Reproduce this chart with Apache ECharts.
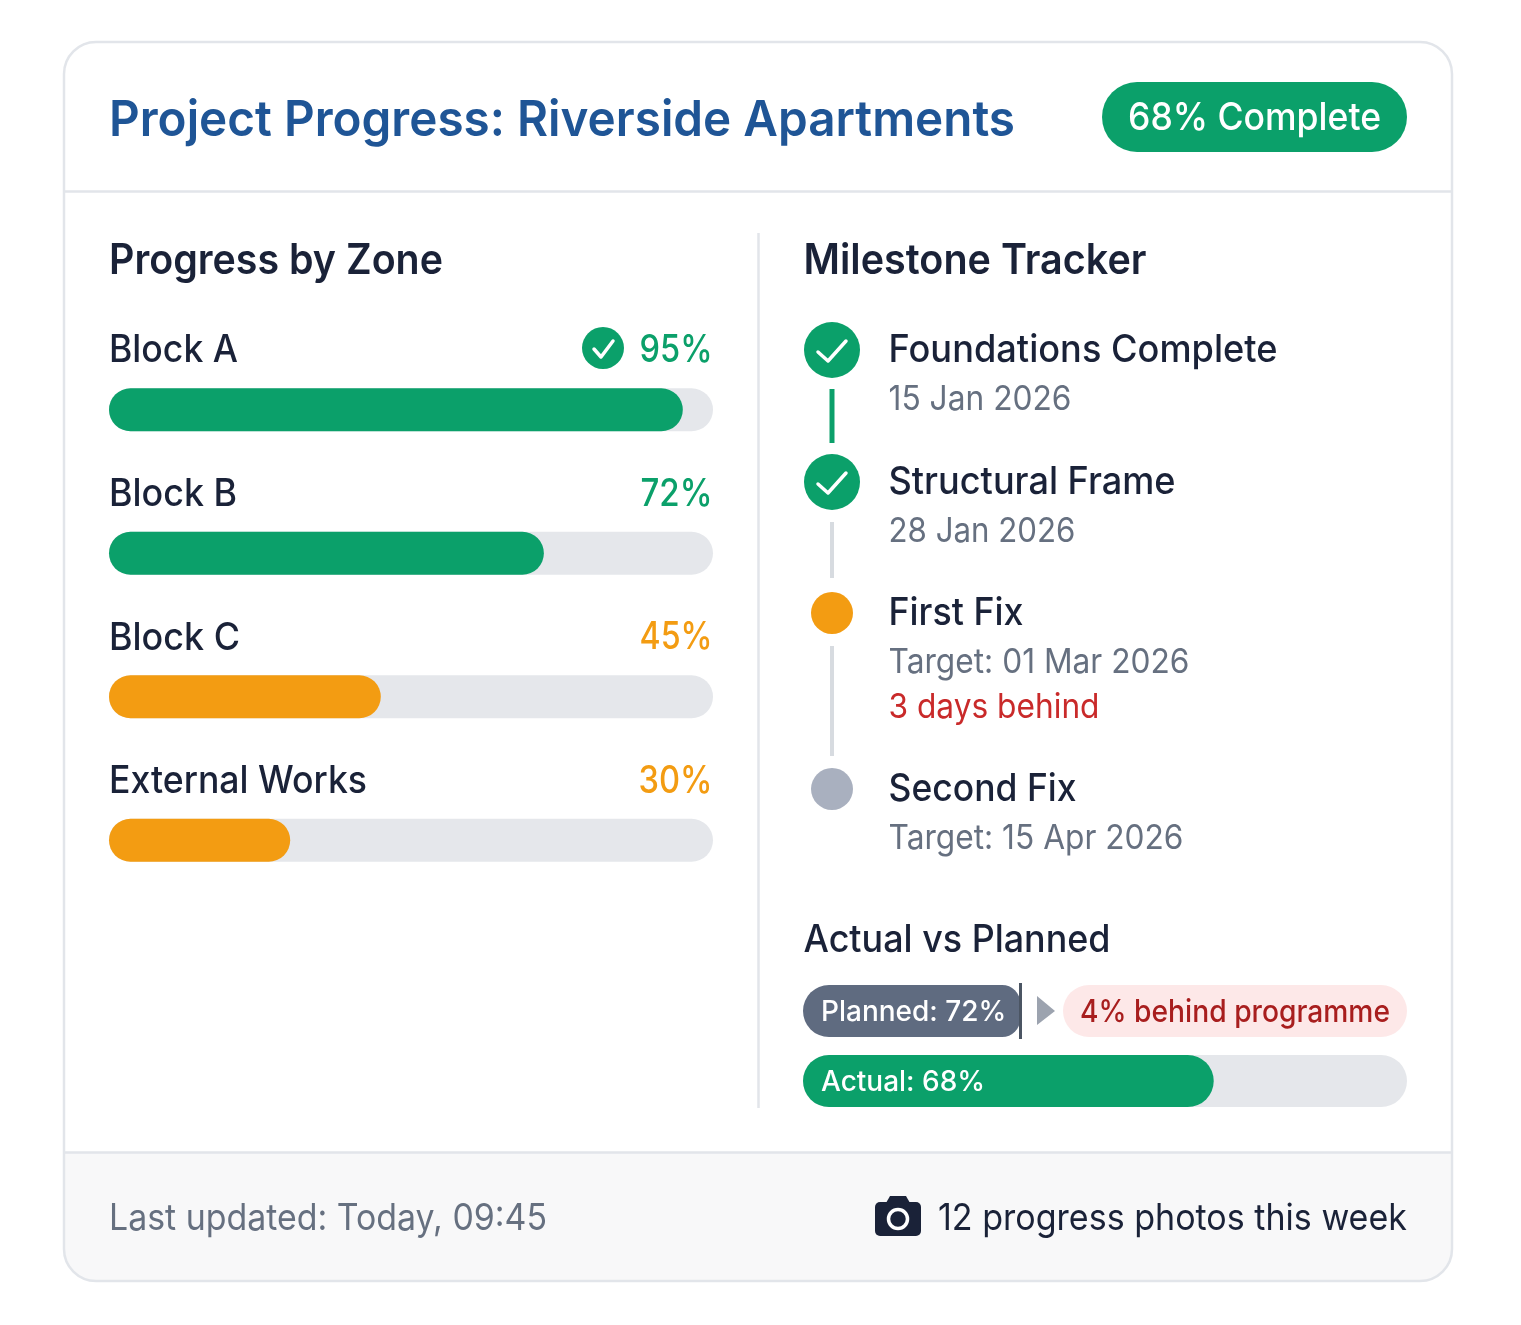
<!DOCTYPE html>
<html><head><meta charset="utf-8">
<style>html,body{margin:0;padding:0;background:#fff}#c{width:1521px;height:1325px}</style>
<script src="https://cdn.jsdelivr.net/npm/echarts@6/dist/echarts.min.js"></script>
</head><body><div id="c"></div>
<script>
const titleText = 'Project Progress: Riverside Apartments';
const overallBadge = '68% Complete';
const zoneNames = ['Block A', 'Block B', 'Block C', 'External Works'];
const zonePercents = [95, 72, 45, 30];
const zoneStatus = ['good', 'good', 'warn', 'warn'];
const milestoneNames = ['Foundations Complete', 'Structural Frame', 'First Fix', 'Second Fix'];
const milestoneDates = ['15 Jan 2026', '28 Jan 2026', 'Target: 01 Mar 2026', 'Target: 15 Apr 2026'];
const milestoneNotes = ['', '', '3 days behind', ''];
const milestoneStatus = ['done', 'done', 'active', 'todo'];
const plannedPercent = [72];
const actualPercent = [68];
const behindText = '4% behind programme';
const footerLeft = 'Last updated: Today, 09:45';
const footerRight = '12 progress photos this week';

const GREEN = '#0ba06a', ORANGE = '#f39c12', TRACK = '#e5e7eb', INK = '#1a2238', MUTED = '#667080', RED = '#c92a2a';
const FONT = 'Inter';
const g = [];
const ctx = document.createElement('canvas').getContext('2d');
// T draws a text; w is the width the text should span, reached by a slight horizontal scale
const T = (x, y, text, size, weight, fill, align, w) => {
  let sx = 1;
  if (w) { ctx.font = weight + ' ' + size + 'px ' + FONT; sx = w / ctx.measureText(text).width; }
  g.push({
    type: 'text', x, y: y + 2, scaleX: sx, z: 20,
    style: { text, fontFamily: FONT, fontSize: size, fontWeight: weight, fill, align: align || 'left', verticalAlign: 'middle' }
  });
};
const statusFill = { done: GREEN, active: ORANGE, todo: '#a9b0bf' };
const zoneNameW = [129, 128, 131, 258], zonePctW = [73, 72, 73, 74];
const nameW = [389, 287, 135, 188], dateW = [183, 187, 301, 295];

// card
g.push({ type: 'rect', z: -5, shape: { x: 64, y: 42, width: 1388, height: 1239, r: 32 }, style: { fill: '#fff' } });
g.push({ type: 'rect', z: -4, shape: { x: 64, y: 1152, width: 1388, height: 129, r: [0, 0, 32, 32] }, style: { fill: '#f8f8f9' } });
g.push({ type: 'rect', z: -3, shape: { x: 64, y: 42, width: 1388, height: 1239, r: 32 }, style: { fill: 'none', stroke: '#e2e5ea', lineWidth: 2.5 } });
[191.5, 1152.5].forEach(y => g.push({ type: 'line', z: -3, shape: { x1: 64, y1: y, x2: 1452, y2: y }, style: { stroke: '#e2e5ea', lineWidth: 2.5 } }));
g.push({ type: 'line', z: -3, shape: { x1: 758.5, y1: 233, x2: 758.5, y2: 1108 }, style: { stroke: '#e2e5ea', lineWidth: 2.5 } });

// header
T(109, 118.5, titleText, 50, 600, '#1f5596', 'left', 906);
g.push({ type: 'rect', z: 5, shape: { x: 1102, y: 82, width: 305, height: 70, r: 35 }, style: { fill: GREEN } });
T(1254.5, 117, overallBadge, 38, 500, '#fff', 'center', 253);

// section heads
T(109, 259, 'Progress by Zone', 42, 600, INK, 'left', 334);
T(803.5, 259, 'Milestone Tracker', 42, 600, INK, 'left', 343);
T(803.5, 939, 'Actual vs Planned', 38, 500, INK, 'left', 307);

// zone labels
const check = (pts, w) => g.push({ type: 'polyline', z: 21, shape: { points: pts }, style: { stroke: '#fff', lineWidth: w, fill: 'none', lineCap: 'round', lineJoin: 'round' } });
zoneNames.forEach((n, i) => {
  const y = 349 + i * 143.6;
  T(109, y, n, 38, 500, INK, 'left', zoneNameW[i]);
  T(712.5, y - 0.5, zonePercents[i] + '%', 38, 500, zoneStatus[i] === 'good' ? GREEN : ORANGE, 'right', zonePctW[i]);
});
g.push({ type: 'circle', z: 20, shape: { cx: 603, cy: 348, r: 21 }, style: { fill: GREEN } });
check([[594, 349], [601, 357], [613, 341]], 3.5);

// timeline
const tlY = [350, 482, 613, 789], tlX = 832;
[[389, 443, GREEN, 5], [522, 578, '#d7dbe0', 4], [646, 756, '#d7dbe0', 4]].forEach(s =>
  g.push({ type: 'line', z: 5, shape: { x1: tlX, y1: s[0], x2: tlX, y2: s[1] }, style: { stroke: s[2], lineWidth: s[3] } }));
milestoneNames.forEach((n, i) => {
  const done = milestoneStatus[i] === 'done';
  g.push({ type: 'circle', z: 6, shape: { cx: tlX, cy: tlY[i], r: done ? 28 : 21 }, style: { fill: statusFill[milestoneStatus[i]] } });
  if (done) check([[tlX - 14, tlY[i] + 2], [tlX - 4, tlY[i] + 11], [tlX + 14, tlY[i] - 9]], 3.5);
  T(888.5, tlY[i] - 1, n, 38, 500, INK, 'left', nameW[i]);
  T(888.5, tlY[i] + 48, milestoneDates[i], 34, 400, MUTED, 'left', dateW[i]);
  if (milestoneNotes[i]) T(888.5, tlY[i] + 93, milestoneNotes[i], 34, 400, RED, 'left', 211);
});

// variance
g.push({ type: 'polygon', z: 6, shape: { points: [[1037, 996], [1055, 1011], [1037, 1025]] }, style: { fill: '#9ca3af' } });
g.push({ type: 'rect', z: 5, shape: { x: 1063, y: 985, width: 344, height: 52, r: 26 }, style: { fill: '#fde8e8' } });
T(1080, 1011, behindText, 31, 500, '#a81e1e', 'left', 310);

// footer
T(109, 1217, footerLeft, 37, 400, MUTED, 'left', 438);
T(1407, 1217, footerRight, 37, 400, INK, 'right', 469);
g.push({ type: 'rect', z: 20, shape: { x: 875, y: 1202, width: 46, height: 34, r: 5 }, style: { fill: INK } });
g.push({ type: 'polygon', z: 20, shape: { points: [[886, 1203], [890, 1196], [906, 1196], [910, 1203]] }, style: { fill: INK } });
g.push({ type: 'circle', z: 21, shape: { cx: 898, cy: 1219, r: 9.5 }, style: { fill: 'none', stroke: '#fff', lineWidth: 3.5 } });

const hiddenCat = (gridIndex, data) => ({ type: 'category', gridIndex, data, inverse: true, show: false });
const hiddenVal = gridIndex => ({ type: 'value', gridIndex, min: 0, max: 100, show: false });
const label = { show: true, position: 'insideLeft', distance: 18, color: '#fff', fontFamily: FONT, fontSize: 28, fontWeight: 500, offset: [0, 2] };

const chart = echarts.init(document.getElementById('c'), null, { renderer: 'canvas' });
chart.setOption({
  animation: false,
  backgroundColor: '#fff',
  graphic: { elements: g },
  grid: [
    { left: 109, width: 604, top: 338, height: 574 },
    { left: 803, width: 301.6, top: 983, height: 56 },
    { left: 803, width: 604, top: 1055, height: 52 }
  ],
  xAxis: [hiddenVal(0), hiddenVal(1), hiddenVal(2)],
  yAxis: [hiddenCat(0, zoneNames), hiddenCat(1, ['Planned']), hiddenCat(2, ['Actual'])],
  series: [
    {
      name: 'Progress by Zone', type: 'bar', xAxisIndex: 0, yAxisIndex: 0, barWidth: 43,
      showBackground: true, backgroundStyle: { color: TRACK, borderRadius: 21.5 },
      data: zonePercents.map((v, i) => ({ value: v, itemStyle: { color: zoneStatus[i] === 'good' ? GREEN : ORANGE, borderRadius: 21.5 } }))
    },
    {
      name: 'Planned', type: 'bar', xAxisIndex: 1, yAxisIndex: 1, barWidth: 52,
      itemStyle: { color: '#5f6b80', borderRadius: [26, 18, 18, 26] },
      label: Object.assign({}, label, { formatter: p => 'Planned: ' + p.value + '%' }),
      markLine: {
        silent: true, symbol: 'none', label: { show: false },
        lineStyle: { color: '#4b5563', width: 3, type: 'solid' },
        data: [{ xAxis: plannedPercent[0] }]
      },
      data: plannedPercent
    },
    {
      name: 'Actual', type: 'bar', xAxisIndex: 2, yAxisIndex: 2, barWidth: 52,
      showBackground: true, backgroundStyle: { color: TRACK, borderRadius: 26 },
      itemStyle: { color: GREEN, borderRadius: 26 },
      label: Object.assign({}, label, { formatter: p => 'Actual: ' + p.value + '%' }),
      data: actualPercent
    }
  ]
});
</script></body></html>
